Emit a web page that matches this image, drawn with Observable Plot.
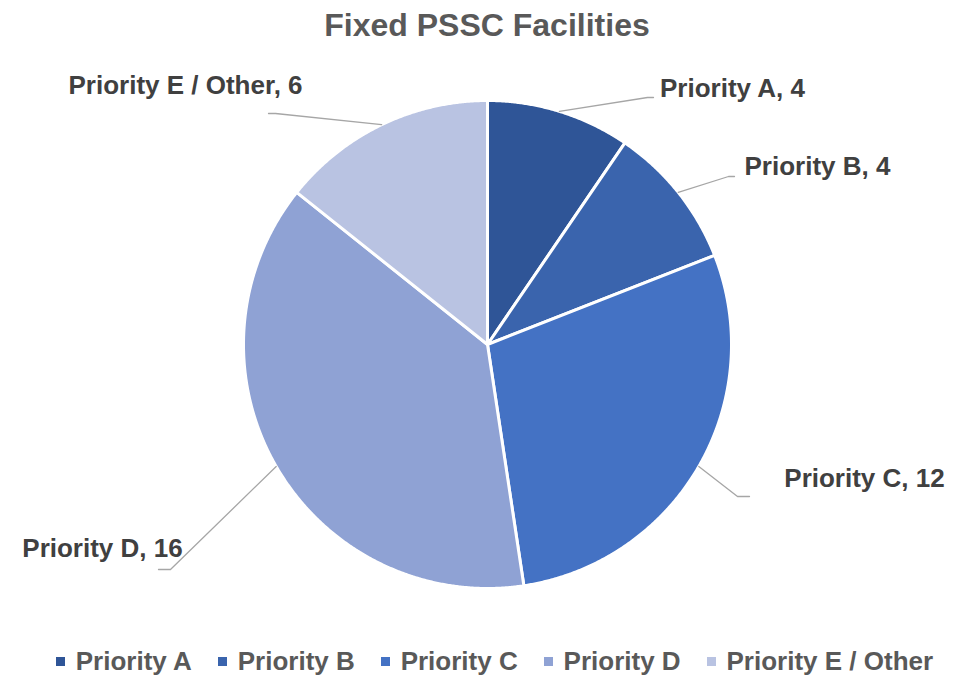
<!DOCTYPE html>
<html><head><meta charset="utf-8">
<script src="https://cdn.jsdelivr.net/npm/d3@7"></script>
<script src="https://cdn.jsdelivr.net/npm/@observablehq/plot@0.6"></script>
<style>
body{margin:0;background:#fff;width:974px;font-family:"Liberation Sans",Arial,sans-serif;}
#title{height:50px;line-height:50px;text-align:center;font-size:32px;font-weight:bold;color:#595959;}
#legend{margin-top:5px;}
#legend .lg-swatches-wrap{justify-content:center;padding-left:41px;}
#legend .lg-swatches{font-family:"Liberation Sans",Arial,sans-serif!important;font-size:26px!important;font-weight:bold;color:#595959;}
#legend .lg-swatch > svg{margin-right:0.42em!important;}
</style></head><body>
<div id="title">Fixed PSSC Facilities</div>
<div id="chart"></div>
<div id="legend"></div>
<script>
// data
const categories = ["Priority A", "Priority B", "Priority C", "Priority D", "Priority E / Other"];
const values = [4, 4, 12, 16, 6];
const colors = ["#2F5597", "#3A64AD", "#4472C4", "#8FA2D4", "#B9C3E2"];

// layout (page pixel coordinates)
const cx = 487, cy = 344, r = 244;
const labelX = [732, 817, 864, 102, 185];
const labelY = [88, 166, 478, 548, 85];
const elbowX = [647, 728, 737, 170, 275];
const elbowY = [97, 176, 496, 569, 113];
const tail = [6, 6, 12, -12, -7];

const arcs = d3.pie().sort(null).value(d => d)(values);

const slicePts = [];
arcs.forEach((a, i) => {
  const name = categories[i];
  slicePts.push({name, x: cx, y: cy});
  const n = Math.max(2, Math.ceil((a.endAngle - a.startAngle) / 0.005));
  for (let k = 0; k <= n; k++) {
    const t = a.startAngle + (a.endAngle - a.startAngle) * k / n;
    slicePts.push({name, x: cx + r * Math.sin(t), y: cy - r * Math.cos(t)});
  }
  slicePts.push({name, x: cx, y: cy});
});

const leaderPts = [];
arcs.forEach((a, i) => {
  const name = categories[i];
  const m = (a.startAngle + a.endAngle) / 2;
  leaderPts.push({name, x: cx + r * Math.sin(m), y: cy - r * Math.cos(m)});
  leaderPts.push({name, x: elbowX[i], y: elbowY[i]});
  leaderPts.push({name, x: elbowX[i] + tail[i], y: elbowY[i]});
});

const labels = categories.map((c, i) => ({text: `${c}, ${values[i]}`, x: labelX[i], y: labelY[i]}));

const plot = Plot.plot({
  width: 974,
  height: 590,
  margin: 0,
  x: {domain: [0, 974], range: [0, 974], axis: null},
  y: {domain: [50, 640], range: [0, 590], axis: null},
  color: {domain: categories, range: colors},
  style: {fontFamily: '"Liberation Sans", Arial, sans-serif', background: "#fff"},
  marks: [
    Plot.line(slicePts, {x: "x", y: "y", z: "name", fill: "name", stroke: "#fff", strokeWidth: 3, curve: "linear"}),
    Plot.line(leaderPts, {x: "x", y: "y", z: "name", stroke: "#A6A6A6", strokeWidth: 1.3}),
    Plot.text(labels, {x: "x", y: "y", text: "text", fontSize: 26, fontWeight: "bold", fill: "#404040"})
  ]
});
document.getElementById("chart").appendChild(plot);
document.getElementById("legend").appendChild(plot.legend("color", {swatchSize: 9, className: "lg"}));
</script>
</body></html>
